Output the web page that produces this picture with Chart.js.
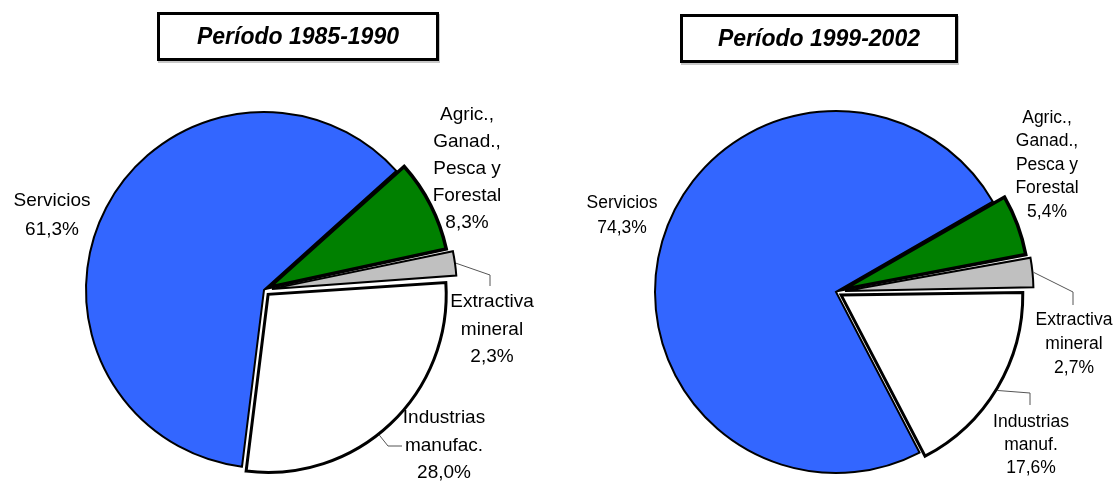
<!DOCTYPE html>
<html><head><meta charset="utf-8">
<script src="https://cdn.jsdelivr.net/npm/chart.js@4/dist/chart.umd.min.js"></script>
<style>
html,body{margin:0;padding:0;background:#fff}
body{width:1117px;height:482px;overflow:hidden;position:relative;font-family:"Liberation Sans",Arial,sans-serif}
.box{position:absolute;border:3px solid #000;box-sizing:border-box;display:flex;align-items:center;justify-content:center;font:italic bold 23px "Liberation Sans",Arial,sans-serif;background:#fff;color:#000;box-shadow:1px 2px 0 #c8c8c8}
.wrap{position:absolute;top:0;width:558px;height:482px}
</style></head><body>
<div class="wrap" style="left:0"><canvas id="c1" width="558" height="482"></canvas></div>
<div class="wrap" style="left:558px;width:559px"><canvas id="c2" width="559" height="482"></canvas></div>
<div class="box" style="left:157px;top:12px;width:282px;height:49px">Período 1985-1990</div>
<div class="box" style="left:680px;top:14px;width:278px;height:49px">Período 1999-2002</div>
<script>
// ---- data ----
const categories1985 = [['Agric.,','Ganad.,','Pesca y','Forestal'], ['Extractiva','mineral'], ['Industrias','manufac.'], ['Servicios']];
const categories1999 = [['Agric.,','Ganad.,','Pesca y','Forestal'], ['Extractiva','mineral'], ['Industrias','manuf.'], ['Servicios']];
const values1985 = [8.3, 2.3, 28.0, 61.3];
const values1999 = [5.4, 2.7, 17.6, 74.3];

// ---- styles ----
const sliceColors = ['#008000', '#c0c0c0', '#ffffff', '#3366ff'];
const sliceBorders = [3.5, 2, 3, 2];
const fmt = v => v.toFixed(1).replace('.', ',') + '%';

const labelPlugin = {
  id: 'sliceLabels',
  afterDatasetsDraw(chart, args, opts) {
    const ctx = chart.ctx;
    const meta = chart.getDatasetMeta(0);
    const ds = chart.data.datasets[0];
    ctx.save();
    meta.data.forEach((arc, i) => {
      const p = opts.pos[i];
      const cx = arc.x, cy = arc.y;
      if (p.leader) {
        const a = arc.startAngle + (arc.endAngle - arc.startAngle) * p.leader.t;
        const off = (arc.options.offset || 0) / 4;
        const fix = 1 - Math.sin(Math.min(Math.PI, arc.endAngle - arc.startAngle));
        const mid = (arc.startAngle + arc.endAngle) / 2;
        const r = arc.outerRadius + off * fix + 1;
        const sx = cx + Math.cos(mid) * off + Math.cos(a) * r;
        const sy = cy + Math.sin(mid) * off + Math.sin(a) * r;
        ctx.beginPath();
        ctx.strokeStyle = '#555';
        ctx.lineWidth = 1;
        ctx.moveTo(sx, sy);
        p.leader.pts.forEach(q => ctx.lineTo(cx + q[0], cy + q[1]));
        ctx.stroke();
      }
      ctx.font = opts.font;
      ctx.fillStyle = '#000';
      ctx.textAlign = 'center';
      ctx.textBaseline = 'middle';
      const lines = opts.lines[i].concat([fmt(ds.data[i])]);
      lines.forEach((t, k) => ctx.fillText(t, cx + p.dx, cy + p.dy + k * p.lh));
    });
    ctx.restore();
  }
};

function makePie(id, values, lines, cfg) {
  new Chart(document.getElementById(id), {
    type: 'pie',
    data: {
      labels: lines.map(l => l.join(' ')),
      datasets: [{
        data: values,
        backgroundColor: sliceColors,
        borderColor: '#000',
        borderWidth: sliceBorders,
        borderJoinStyle: 'miter',
        offset: cfg.offsets,
        hoverOffset: 0,
        clip: false
      }]
    },
    options: {
      responsive: false,
      animation: false,
      rotation: cfg.rotation,
      radius: cfg.radius,
      layout: { padding: cfg.padding },
      events: [],
      plugins: {
        legend: { display: false },
        tooltip: { enabled: false },
        sliceLabels: { lines: lines, font: cfg.font, pos: cfg.pos }
      }
    },
    plugins: [labelPlugin]
  });
}

makePie('c1', values1985, categories1985, {
  rotation: 48,
  radius: 178,
  offsets: [24, 32, 24, 0],
  padding: { left: 0, right: 30, top: 98, bottom: 0 },
  font: '19px "Liberation Sans", Arial, sans-serif',
  pos: [
    { dx: 203, dy: -175, lh: 27 },
    { dx: 228, dy: 12, lh: 27.5, leader: { t: 0.5, pts: [[226, -15], [226, -4]] } },
    { dx: 180, dy: 128, lh: 27.5, leader: { t: 0.55, pts: [[124, 156], [138, 156]] } },
    { dx: -212, dy: -89, lh: 29 }
  ]
});

makePie('c2', values1999, categories1999, {
  rotation: 60,
  radius: 181,
  offsets: [30, 36, 24, 0],
  padding: { left: 0, right: 3, top: 102, bottom: 0 },
  font: '17.5px "Liberation Sans", Arial, sans-serif',
  pos: [
    { dx: 211, dy: -174, lh: 23.5 },
    { dx: 238, dy: 28, lh: 24, leader: { t: 0.5, pts: [[237, 0], [237, 13]] } },
    { dx: 195, dy: 130, lh: 23, leader: { t: 0.51, pts: [[194, 101], [194, 113]] } },
    { dx: -214, dy: -89, lh: 25 }
  ]
});
</script>
</body></html>
